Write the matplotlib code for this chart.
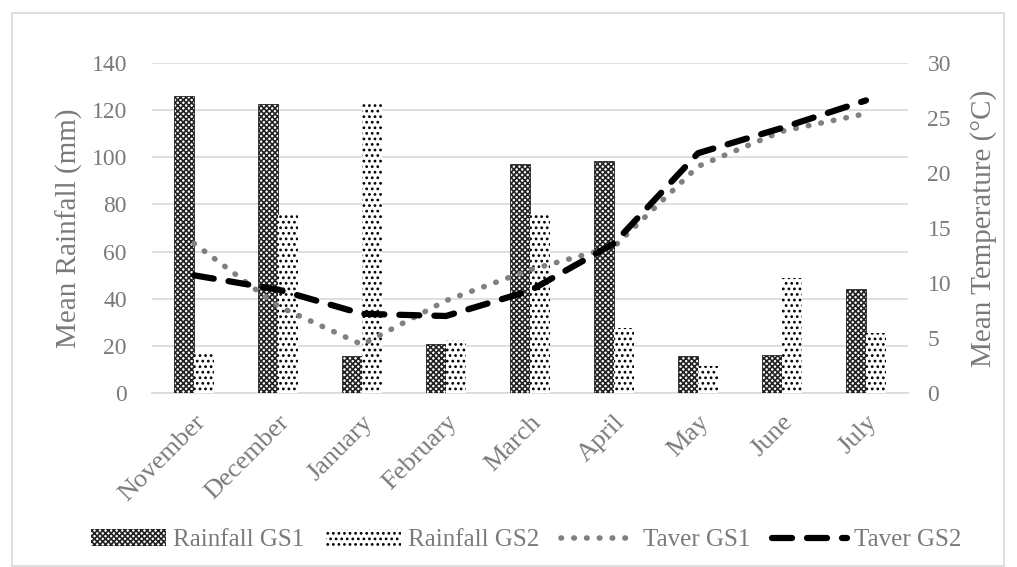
import matplotlib
matplotlib.use("Agg")
import matplotlib.pyplot as plt
import numpy as np
from matplotlib.patches import Rectangle
from matplotlib.lines import Line2D
from matplotlib.patches import Patch

months = ["November", "December", "January", "February", "March", "April", "May", "June", "July"]
rain_gs1 = [126, 122.5, 15.5, 21, 97, 98.5, 15.5, 16, 44]
rain_gs2 = [17, 75.5, 123, 22.5, 76, 27.5, 11.5, 49, 25.5]
taver_gs1 = [13.6, 7.9, 4.4, 8.4, 11.2, 13.3, 20.6, 23.8, 25.4]
taver_gs2 = [10.7, 9.4, 7.2, 7.0, 9.3, 13.6, 21.8, 24.1, 26.6]

plt.rcParams['font.family'] = ['Liberation Serif', 'DejaVu Serif']
plt.rcParams['hatch.linewidth'] = 1.2
grey = '#7a7a7a'

fig = plt.figure(figsize=(10.17, 5.67), dpi=100)
fig.patches.append(Rectangle((12/1017, 1-566/567), 992/1017, 553/567, transform=fig.transFigure,
                             fill=False, edgecolor='#d9d9d9', linewidth=1.2))
ax = fig.add_axes([152/1017, 1-393/567, 756/1017, 330/567])
ax2 = ax.twinx()

x = np.arange(len(months))
w = 0.23
ax.bar(x - 0.12, rain_gs1, w, facecolor='white', edgecolor='#222222', hatch='xxxxxx', linewidth=0.6, zorder=3)
ax.bar(x + 0.12, rain_gs2, w, facecolor='white', edgecolor='black', hatch='...', linewidth=0, zorder=3)

ax.set_ylim(0, 140)
ax.set_yticks(range(0, 141, 20))
ax.set_xlim(-0.5, len(months) - 0.5)
ax.yaxis.grid(True, color='#d9d9d9', linewidth=1.2, zorder=0)
ax.set_axisbelow(True)
for s in ['top', 'right', 'left']:
    ax.spines[s].set_visible(False)
ax.spines['bottom'].set_color('#d9d9d9')
ax.spines['bottom'].set_linewidth(1.2)
ax.tick_params(axis='y', length=0, labelsize=17, colors=grey, pad=18)
ax.set_xticks(x)
ax.set_xticklabels(months, rotation=45, ha='right', rotation_mode='anchor')
ax.tick_params(axis='x', length=0, labelsize=19, colors=grey, pad=13)
ax.set_ylabel("Mean Rainfall (mm)", fontsize=21, color=grey, labelpad=6)

ax2.plot(x, taver_gs1, linestyle=(0, (0.1, 2.2)), color='#808080', linewidth=4, dash_capstyle='round', zorder=4)
ax2.plot(x, taver_gs2, linestyle=(0, (3.2, 2.4)), color='black', linewidth=4.5, dash_capstyle='round', zorder=5)
ax2.set_ylim(0, 30)
ax2.set_yticks(range(0, 31, 5))
for s in ['top', 'right', 'left', 'bottom']:
    ax2.spines[s].set_visible(False)
ax2.tick_params(axis='y', length=0, labelsize=17, colors=grey, pad=14)
ax2.set_ylabel("Mean Temperature (°C)", fontsize=21, color=grey, labelpad=14)

handles = [
    Patch(facecolor='white', edgecolor='#222222', hatch='xxxxxx', linewidth=0),
    Patch(facecolor='white', edgecolor='black', hatch='...', linewidth=0),
    Line2D([], [], linestyle=(0, (0.1, 2.2)), color='#808080', linewidth=4, dash_capstyle='round'),
    Line2D([], [], linestyle=(0, (3.2, 2.4)), color='black', linewidth=4.5, dash_capstyle='round'),
]
labels = ["Rainfall GS1", "Rainfall GS2", "Taver GS1", "Taver GS2"]
leg = fig.legend(handles, labels, loc='center', bbox_to_anchor=(526/1017, 1-540/567), ncol=4,
                 frameon=False, fontsize=18, handlelength=3.0, handleheight=0.65, columnspacing=0.85,
                 handletextpad=0.3)
for t in leg.get_texts():
    t.set_color(grey)

fig.savefig("out.png", dpi=100)
